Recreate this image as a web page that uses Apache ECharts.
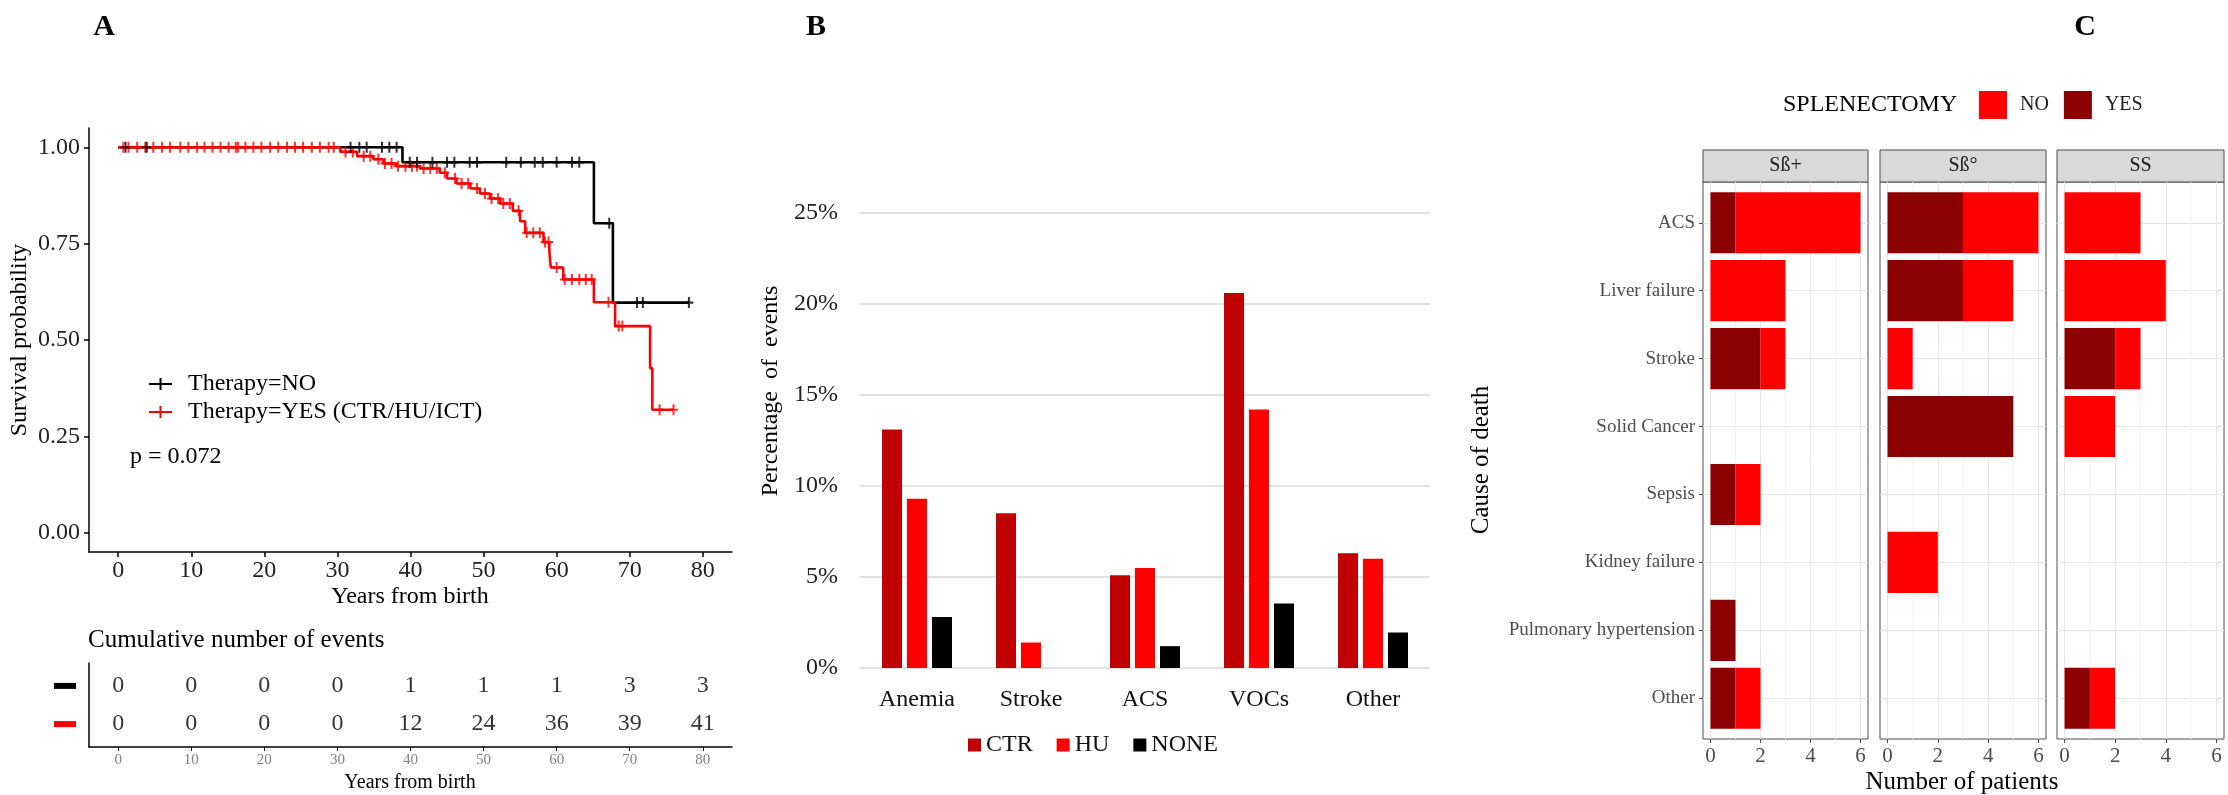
<!DOCTYPE html>
<html><head><meta charset="utf-8">
<script src="https://cdn.jsdelivr.net/npm/echarts@6/dist/echarts.min.js"></script>
<style>html,body{margin:0;padding:0;background:#fff}#c{width:2228px;height:795px}</style>
</head><body><div id="c"></div>
<script>
// ---------- Panel A: Kaplan-Meier ----------
const noTimes = [0, 38.9, 65.1, 67.7, 78.1];
const noSurv  = [1.0, 0.961, 0.803, 0.597, 0.597];
const noCensor = [1.0, 3.9, 31.8, 33.0, 34.0, 36.1, 37.1, 38.1, 39.9, 40.9, 43.0, 45.0, 46.0, 48.1, 49.1, 53.1, 55.1, 57.0, 58.1, 60.0, 62.1, 63.1, 67.2, 71.0, 71.8, 78.1];
const yesTimes = [0, 30.4, 32.7, 34.9, 36.3, 38.1, 41.3, 44.0, 45.0, 46.3, 48.2, 49.5, 50.9, 52.3, 54.0, 55.0, 55.7, 58.2, 59.0, 59.2, 60.9, 65.1, 68.0, 72.8, 73.1, 76.0];
const yesSurv  = [1.0, 0.988, 0.977, 0.969, 0.958, 0.951, 0.945, 0.934, 0.919, 0.906, 0.893, 0.880, 0.867, 0.854, 0.835, 0.808, 0.778, 0.754, 0.732, 0.688, 0.657, 0.598, 0.536, 0.427, 0.319, 0.319];
const yesCensor = [0.7, 1.4, 2.6, 3.7, 4.8, 6.0, 7.1, 8.5, 9.6, 10.8, 11.8, 12.9, 14.0, 15.1, 16.1, 16.4, 17.4, 18.5, 19.6, 20.8, 21.9, 23.1, 24.2, 25.3, 26.5, 27.6, 28.8, 29.5, 31.1, 32.1, 33.6, 34.5, 35.6, 36.5, 37.4, 38.3, 39.3, 40.2, 40.9, 41.8, 42.7, 43.6, 44.7, 46.1, 47.0, 47.9, 49.1, 50.2, 51.1, 52.0, 52.7, 53.6, 54.8, 55.9, 56.8, 57.7, 58.4, 58.9, 60.0, 61.1, 62.1, 63.1, 64.0, 64.8, 67.1, 68.5, 69.0, 74.1, 76.0];
const kmTicksX = [0, 10, 20, 30, 40, 50, 60, 70, 80];
const kmTicksY = [0, 0.25, 0.5, 0.75, 1.0];
const riskTimes = [0, 10, 20, 30, 40, 50, 60, 70, 80];
const riskNo  = [0, 0, 0, 0, 1, 1, 1, 3, 3];
const riskYes = [0, 0, 0, 0, 12, 24, 36, 39, 41];
const pValue = 'p = 0.072';

// ---------- Panel B ----------
const bCategories = ['Anemia', 'Stroke', 'ACS', 'VOCs', 'Other'];
const bCTR  = [13.1, 8.5, 5.1, 20.6, 6.3];
const bHU   = [9.3, 1.4, 5.5, 14.2, 6.0];
const bNONE = [2.8, 0, 1.2, 3.55, 1.95];

// ---------- Panel C ----------
const causes = ['ACS', 'Liver failure', 'Stroke', 'Solid Cancer', 'Sepsis', 'Kidney failure', 'Pulmonary hypertension', 'Other'];
const facets = ['Sß+', 'Sß°', 'SS'];
const yesSbPlus = [1, 0, 2, 0, 1, 0, 1, 1];
const noSbPlus  = [5, 3, 1, 0, 1, 0, 0, 1];
const yesSb0    = [3, 3, 0, 5, 0, 0, 0, 0];
const noSb0     = [3, 2, 1, 0, 0, 2, 0, 0];
const yesSS     = [0, 0, 2, 0, 0, 0, 0, 1];
const noSS      = [3, 4, 1, 2, 0, 0, 0, 1];
const cTicks = [0, 2, 4, 6];
const cMinor = [1, 3, 5];

const FF = '"Liberation Serif", "Times New Roman", serif';
const chart = echarts.init(document.getElementById('c'), null, {renderer: 'canvas'});

function survAt(times, surv, t) {
  let v = surv[0];
  for (let i = 0; i < times.length; i++) if (times[i] <= t) v = surv[i];
  return v;
}
const plusPath = 'path://M3.5,0H5.5V10H3.5ZM0,4H9V6H0Z';
const legendPlus = 'path://M0,5H23V7H0ZM10.5,0H12.5V12H10.5Z';

function txt(x, y, text, size, opt) {
  opt = opt || {};
  return {
    type: 'text', x: x, y: y, rotation: opt.rot || 0, silent: true,
    style: {
      text: text, font: (opt.bold ? 'bold ' : '') + size + 'px ' + FF,
      fill: opt.color || '#000', align: opt.align || 'center', verticalAlign: 'middle',
      textAlign: opt.align || 'center', textVerticalAlign: 'middle'
    }
  };
}

const facetLeft = [1703, 1880, 2057];
const facetWidth = [165, 166, 167];
const facetYes = [yesSbPlus, yesSb0, yesSS];
const facetNo = [noSbPlus, noSb0, noSS];

const grids = [
  {left: 89, top: 128, width: 643, height: 424},
  {left: 89, top: 663, width: 643, height: 84},
  {left: 860, top: 213, width: 570, height: 455}
];
facetLeft.forEach((l, i) => grids.push({left: l, top: 182, width: facetWidth[i], height: 557, show: true, borderColor: '#4d4d4d', borderWidth: 1, backgroundColor: '#fff'}));

const xAxes = [
  {gridIndex: 0, type: 'value', min: -4, max: 84,
   axisLine: {show: true, onZero: false, lineStyle: {color: '#000', width: 1.5}},
   axisTick: {show: true, customValues: kmTicksX, length: 5, lineStyle: {color: '#000', width: 1.5}},
   axisLabel: {customValues: kmTicksX, color: '#222', fontSize: 24, fontFamily: FF, margin: 7},
   splitLine: {show: false}},
  {gridIndex: 1, type: 'value', min: -4, max: 84,
   axisLine: {show: true, onZero: false, lineStyle: {color: '#000', width: 1.5}},
   axisTick: {show: true, customValues: riskTimes, length: 4, lineStyle: {color: '#000', width: 1}},
   axisLabel: {customValues: riskTimes, color: '#808080', fontSize: 15, fontFamily: FF, margin: 6},
   splitLine: {show: false}},
  {gridIndex: 2, type: 'category', data: bCategories,
   axisLine: {show: false}, axisTick: {show: false},
   axisLabel: {color: '#111', fontSize: 24, fontFamily: FF, margin: 20}}
];
const yAxes = [
  {gridIndex: 0, type: 'value', min: -0.05, max: 1.05,
   axisLine: {show: true, onZero: false, lineStyle: {color: '#000', width: 1.5}},
   axisTick: {show: true, customValues: kmTicksY, length: 5, lineStyle: {color: '#000', width: 1.5}},
   axisLabel: {customValues: kmTicksY, color: '#222', fontSize: 24, fontFamily: FF, margin: 9, formatter: v => v.toFixed(2)},
   splitLine: {show: false}},
  {gridIndex: 1, type: 'value', min: 0.4, max: 2.6,
   axisLine: {show: true, onZero: false, lineStyle: {color: '#000', width: 1.5}},
   axisTick: {show: false, customValues: [1, 2]},
   axisLabel: {customValues: [1, 2], margin: 13, formatter: v => (v > 1.5 ? '{k|}' : '{r|}'),
     rich: {k: {width: 22, height: 6, backgroundColor: '#000'}, r: {width: 22, height: 6, backgroundColor: '#ff0000'}}},
   splitLine: {show: false}},
  {gridIndex: 2, type: 'value', min: 0, max: 25, interval: 5,
   axisLine: {show: false}, axisTick: {show: false},
   axisLabel: {formatter: '{value}%', color: '#222', fontSize: 24, fontFamily: FF, margin: 22},
   splitLine: {show: true, lineStyle: {color: '#d9d9d9', width: 1.5}}}
];
facetLeft.forEach((l, i) => {
  xAxes.push({gridIndex: 3 + i, type: 'value', min: -0.3, max: 6.3,
    axisLine: {show: false, onZero: false},
    axisTick: {show: true, customValues: cTicks, length: 4, lineStyle: {color: '#4d4d4d'}},
    axisLabel: {customValues: cTicks, color: '#4d4d4d', fontSize: 21, fontFamily: FF, margin: 7},
    splitLine: {show: true, lineStyle: {color: '#e6e6e6', width: 1}}});
  yAxes.push({gridIndex: 3 + i, type: 'value', min: 0.4, max: 8.6, inverse: true,
    axisLine: {show: false, onZero: false},
    axisTick: {show: i === 0, customValues: [1, 2, 3, 4, 5, 6, 7, 8], length: 4, lineStyle: {color: '#4d4d4d'}},
    axisLabel: {show: i === 0, customValues: [1, 2, 3, 4, 5, 6, 7, 8], color: '#4d4d4d', fontSize: 19, fontFamily: FF, margin: 8,
      formatter: v => causes[Math.round(v) - 1]},
    splitLine: {show: true, lineStyle: {color: '#e6e6e6', width: 1}}});
});

const series = [
  {name: 'Therapy=NO', type: 'line', xAxisIndex: 0, yAxisIndex: 0, step: 'end', color: '#000',
   showSymbol: false, symbol: 'none', lineStyle: {color: '#000', width: 2.6}, z: 2,
   data: noTimes.map((t, i) => [t, noSurv[i]])},
  {name: 'Therapy=YES (CTR/HU/ICT)', type: 'line', xAxisIndex: 0, yAxisIndex: 0, step: 'end', color: '#ff0000',
   showSymbol: false, symbol: 'none', lineStyle: {color: '#ff0000', width: 2.6}, z: 3,
   data: yesTimes.map((t, i) => [t, yesSurv[i]])},
  {name: 'Therapy=YES (CTR/HU/ICT)', type: 'scatter', xAxisIndex: 0, yAxisIndex: 0, color: '#ff0000',
   symbol: plusPath, symbolSize: [9, 11], itemStyle: {color: '#ff0000'}, z: 4,
   data: yesCensor.map(t => [t, survAt(yesTimes, yesSurv, t)])},
  {name: 'Therapy=NO', type: 'scatter', xAxisIndex: 0, yAxisIndex: 0, color: '#000',
   symbol: plusPath, symbolSize: [9, 11], itemStyle: {color: '#000'}, z: 5,
   data: noCensor.map(t => [t, survAt(noTimes, noSurv, t)])},
  {name: 'riskNo', type: 'scatter', xAxisIndex: 1, yAxisIndex: 1, symbolSize: 0,
   label: {show: true, position: 'inside', formatter: p => String(p.value[2]), color: '#000', fontSize: 24, fontFamily: FF},
   data: riskTimes.map((t, i) => [t, 2, riskNo[i]])},
  {name: 'riskYes', type: 'scatter', xAxisIndex: 1, yAxisIndex: 1, symbolSize: 0,
   label: {show: true, position: 'inside', formatter: p => String(p.value[2]), color: '#000', fontSize: 24, fontFamily: FF},
   data: riskTimes.map((t, i) => [t, 1, riskYes[i]])},
  {name: 'CTR', type: 'bar', xAxisIndex: 2, yAxisIndex: 2, barWidth: 20, barGap: '25%', itemStyle: {color: '#c00000'}, data: bCTR},
  {name: 'HU', type: 'bar', xAxisIndex: 2, yAxisIndex: 2, barWidth: 20, barGap: '25%', itemStyle: {color: '#ff0000'}, data: bHU},
  {name: 'NONE', type: 'bar', xAxisIndex: 2, yAxisIndex: 2, barWidth: 20, barGap: '25%', itemStyle: {color: '#000000'}, data: bNONE}
];

function barItem(params, api) {
  const y = api.value(0), x0 = api.value(1), x1 = api.value(2);
  const p0 = api.coord([x0, y - 0.45]);
  const p1 = api.coord([x1, y + 0.45]);
  return {type: 'rect', shape: {x: p0[0], y: Math.min(p0[1], p1[1]), width: p1[0] - p0[0], height: Math.abs(p1[1] - p0[1])},
    style: {fill: api.visual('color')}};
}
function minorLine(params, api) {
  const v = api.value(0);
  const a = api.coord([v, 0.4]), b = api.coord([v, 8.6]);
  return {type: 'line', shape: {x1: a[0], y1: a[1], x2: b[0], y2: b[1]}, style: {stroke: '#f2f2f2', lineWidth: 1}, silent: true};
}
facetLeft.forEach((l, f) => {
  const yes = facetYes[f], no = facetNo[f];
  series.push({name: 'grid-minor-' + f, type: 'custom', xAxisIndex: 3 + f, yAxisIndex: 3 + f, z: 0, silent: true,
    renderItem: minorLine, encode: {x: 0}, data: cMinor.map(v => [v])});
  series.push({name: 'YES', type: 'custom', xAxisIndex: 3 + f, yAxisIndex: 3 + f, z: 3, color: '#8b0000',
    itemStyle: {color: '#8b0000'}, renderItem: barItem, encode: {x: [1, 2], y: 0},
    data: causes.map((c, i) => [i + 1, 0, yes[i]]).filter(d => d[2] > d[1])});
  series.push({name: 'NO', type: 'custom', xAxisIndex: 3 + f, yAxisIndex: 3 + f, z: 3, color: '#ff0000',
    itemStyle: {color: '#ff0000'}, renderItem: barItem, encode: {x: [1, 2], y: 0},
    data: causes.map((c, i) => [i + 1, yes[i], yes[i] + no[i]]).filter(d => d[2] > d[1])});
});

const graphics = [
  txt(104, 27, 'A', 30, {bold: true}),
  txt(816, 27, 'B', 30, {bold: true}),
  txt(2085, 27, 'C', 30, {bold: true}),
  txt(20, 340, 'Survival probability', 24, {rot: Math.PI / 2}),
  txt(410, 597, 'Years from birth', 24),
  txt(130, 457, pValue, 24, {align: 'left'}),
  txt(88, 640, 'Cumulative number of events', 25, {align: 'left'}),
  txt(410, 783, 'Years from birth', 20),
  txt(771, 391, 'Percentage  of  events', 24, {rot: Math.PI / 2}),
  txt(1783, 105, 'SPLENECTOMY', 24, {align: 'left'}),
  txt(1481, 460, 'Cause of death', 25, {rot: Math.PI / 2}),
  txt(1962, 782, 'Number of patients', 25)
];
facetLeft.forEach((l, i) => {
  graphics.push({type: 'rect', shape: {x: l, y: 150, width: facetWidth[i], height: 32}, silent: true,
    style: {fill: '#d9d9d9', stroke: '#4d4d4d', lineWidth: 1}});
  graphics.push(txt(l + facetWidth[i] / 2, 166, facets[i], 20, {color: '#1a1a1a'}));
});

chart.setOption({
  animation: false,
  backgroundColor: '#fff',
  grid: grids,
  xAxis: xAxes,
  yAxis: yAxes,
  legend: [
    {orient: 'vertical', left: 149, top: 372, padding: 0, itemWidth: 23, itemHeight: 12, itemGap: 4,
     textStyle: {fontSize: 24, fontFamily: FF, color: '#000', padding: [0, 0, 0, 11]},
     data: [{name: 'Therapy=NO', icon: legendPlus}, {name: 'Therapy=YES (CTR/HU/ICT)', icon: legendPlus}]},
    {orient: 'horizontal', left: 968, top: 733, padding: 0, itemWidth: 13, itemHeight: 13, itemGap: 24, icon: 'rect',
     textStyle: {fontSize: 24, fontFamily: FF, color: '#111'}, data: ['CTR', 'HU', 'NONE']},
    {orient: 'horizontal', left: 1979, top: 91, padding: 0, itemWidth: 28, itemHeight: 28, itemGap: 15, icon: 'rect',
     textStyle: {fontSize: 20, fontFamily: FF, color: '#222', padding: [0, 0, 0, 8]}, data: ['NO', 'YES']}
  ],
  graphic: graphics,
  series: series
});
</script>
</body></html>
